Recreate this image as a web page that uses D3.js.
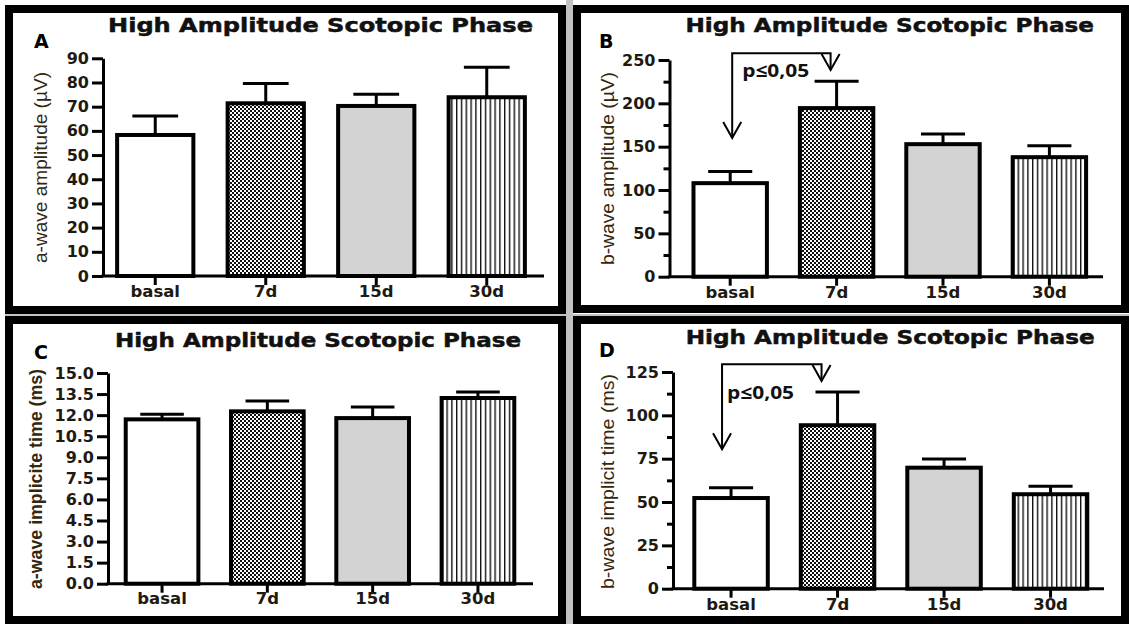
<!DOCTYPE html>
<html>
<head>
<meta charset="utf-8">
<script src="https://cdn.jsdelivr.net/npm/d3@7"></script>
<style>
  body { margin: 0; background: #fff; }
  svg { display: block; }
</style>
</head>
<body>
<script>
const W = 1129, H = 624;

// groups on the x axis
const categories = ["basal", "7d", "15d", "30d"];

// A: a-wave amplitude (µV), mean and SEM
const aAmpMean = [58.3, 71.4, 70.3, 73.9];
const aAmpSem = [7.8, 8.2, 4.8, 12.4];
// B: b-wave amplitude (µV)
const bAmpMean = [107.9, 194.5, 152.9, 137.9];
const bAmpSem = [13.5, 30.9, 11.6, 13.1];
// C: a-wave implicit time (ms)
const aTimeMean = [11.7, 12.27, 11.79, 13.22];
const aTimeSem = [0.36, 0.73, 0.79, 0.42];
// D: b-wave implicit time (ms)
const bTimeMean = [52.3, 94.3, 69.8, 54.5];
const bTimeSem = [6.0, 19.2, 5.0, 4.6];

// tick labels
const aAmpTicks = [0, 10, 20, 30, 40, 50, 60, 70, 80, 90];
const bAmpTicks = [0, 50, 100, 150, 200, 250];
const aTimeTicks = [0, 1.5, 3, 4.5, 6, 7.5, 9, 10.5, 12, 13.5, 15];
const bTimeTicks = [0, 25, 50, 75, 100, 125];

const titleText = "High Amplitude Scotopic Phase";
const sigText = "p\u22640,05";

const fills = ["#ffffff", "url(#checker)", "#d3d3d3", "url(#stripes)"];

const svg = d3.select("body").append("svg")
    .attr("width", W)
    .attr("height", H);

const defs = svg.append("defs");
const checker = defs.append("pattern")
    .attr("id", "checker")
    .attr("patternUnits", "userSpaceOnUse")
    .attr("width", 4).attr("height", 4);
checker.append("rect").attr("width", 4).attr("height", 4).attr("fill", "#fff");
checker.append("rect").attr("width", 2).attr("height", 2).attr("fill", "#111");
checker.append("rect").attr("x", 2).attr("y", 2).attr("width", 2).attr("height", 2).attr("fill", "#111");

const stripes = defs.append("pattern")
    .attr("id", "stripes")
    .attr("patternUnits", "userSpaceOnUse")
    .attr("width", 4.8).attr("height", 4);
stripes.append("rect").attr("width", 4.8).attr("height", 4).attr("fill", "#fff");
stripes.append("rect").attr("width", 1.4).attr("height", 4).attr("fill", "#111");

// gray gutters between the four panels
svg.append("rect").attr("x", 566).attr("y", 0).attr("width", 7).attr("height", H).attr("fill", "#c2c2c2");
svg.append("rect").attr("x", 5).attr("y", 314).attr("width", W).attr("height", 2).attr("fill", "#c2c2c2");

const panels = [
  { letter: "A", mean: aAmpMean, sem: aAmpSem, ticks: aAmpTicks, minor: false, fmt: d3.format("d"),
    ylabel: "a-wave amplitude (\u00b5V)", labelWeight: "normal", labelX: 41, labelY: 167.5, labelLen: 191,
    frame: [9, 9, 553, 301], axisX: 103, xEnd: 544, band: [100, 542], yRange: [276, 58.3],
    title: [108, 533, 32], letterPos: [34, 48], xlabY: 296.7, sig: null },
  { letter: "B", mean: bAmpMean, sem: bAmpSem, ticks: bAmpTicks, minor: true, fmt: d3.format("d"),
    ylabel: "b-wave amplitude (\u00b5V)", labelWeight: "normal", labelX: 608, labelY: 168.5, labelLen: 193,
    frame: [577, 9, 548, 300], axisX: 669.5, xEnd: 1103, band: [677, 1102.6], yRange: [276.7, 60],
    title: [685.5, 1094, 32], letterPos: [599, 48], xlabY: 298,
    sig: { dxFrom: 2, dxTo: -6, top: 257.7, from: 160, to: 238.5, textDx: 10, textV: 230.7 } },
  { letter: "C", mean: aTimeMean, sem: aTimeSem, ticks: aTimeTicks, minor: false, fmt: d3.format(".1f"),
    ylabel: "a-wave implicite time (ms)", labelWeight: "bold", labelX: 36, labelY: 479, labelLen: 220,
    frame: [9, 320, 553, 300], axisX: 108, xEnd: 533, band: [109.4, 530.6], yRange: [583.7, 373],
    title: [115, 521, 347], letterPos: [34, 359], xlabY: 603.7, sig: null },
  { letter: "D", mean: bTimeMean, sem: bTimeSem, ticks: bTimeTicks, minor: true, fmt: d3.format("d"),
    ylabel: "b-wave implicit time (ms)", labelWeight: "normal", labelX: 608, labelY: 481.5, labelLen: 215,
    frame: [577, 320, 548, 300], axisX: 673, xEnd: 1104, band: [677.8, 1103.8], yRange: [588.7, 372],
    title: [685.7, 1094.7, 344.3], letterPos: [599, 357], xlabY: 609.7,
    sig: { dxFrom: -9, dxTo: -16, top: 129.5, from: 80.4, to: 119.8, textDx: 5, textV: 109.5 } }
];

function drawPanel(p) {
  const g = svg.append("g");

  // black frame
  g.append("rect")
    .attr("x", p.frame[0]).attr("y", p.frame[1])
    .attr("width", p.frame[2]).attr("height", p.frame[3])
    .attr("fill", "#fff").attr("stroke", "#000").attr("stroke-width", 8);

  const x = d3.scaleBand().domain(categories).range(p.band)
      .paddingInner(0.31).paddingOuter(0.155);
  const y = d3.scaleLinear().domain([0, d3.max(p.ticks)]).range(p.yRange);

  // title
  g.append("text")
    .attr("x", p.title[0]).attr("y", p.title[2])
    .attr("textLength", p.title[1] - p.title[0])
    .attr("lengthAdjust", "spacingAndGlyphs")
    .attr("font-family", "DejaVu Sans").attr("font-weight", "bold")
    .attr("font-size", 20).attr("fill", "#111")
    .attr("stroke", "#111").attr("stroke-width", 0.5)
    .text(titleText);

  // panel letter
  g.append("text")
    .attr("x", p.letterPos[0]).attr("y", p.letterPos[1])
    .attr("font-family", "DejaVu Sans").attr("font-weight", "bold")
    .attr("font-size", 19).attr("fill", "#000")
    .text(p.letter);

  // bars
  g.selectAll(".bar")
    .data(categories)
    .join("rect")
    .attr("class", "bar")
    .attr("x", d => x(d))
    .attr("width", x.bandwidth())
    .attr("y", (d, i) => y(p.mean[i]))
    .attr("height", (d, i) => y(0) - y(p.mean[i]))
    .attr("fill", (d, i) => fills[i])
    .attr("stroke", "#000").attr("stroke-width", 4);

  // error bars (upper only)
  const cap = x.bandwidth() * 0.6;
  categories.forEach((c, i) => {
    const cx = x(c) + x.bandwidth() / 2;
    const top = y(p.mean[i] + p.sem[i]);
    g.append("line")
      .attr("x1", cx).attr("x2", cx)
      .attr("y1", y(p.mean[i])).attr("y2", top)
      .attr("stroke", "#000").attr("stroke-width", 3);
    g.append("line")
      .attr("x1", cx - cap / 2).attr("x2", cx + cap / 2)
      .attr("y1", top).attr("y2", top)
      .attr("stroke", "#000").attr("stroke-width", 3);
  });

  // y axis
  const yAxis = g.append("g")
    .attr("transform", `translate(${p.axisX},0)`)
    .call(d3.axisLeft(y).tickValues(p.ticks).tickFormat(p.fmt)
      .tickSize(11).tickSizeOuter(0).tickPadding(3));
  if (p.minor) {
    const step = p.ticks[1] - p.ticks[0];
    const minorTicks = p.ticks.slice(0, -1).map(t => t + step / 2);
    g.append("g")
      .attr("transform", `translate(${p.axisX},0)`)
      .call(d3.axisLeft(y).tickValues(minorTicks).tickFormat("")
        .tickSize(6).tickSizeOuter(0))
      .call(a => a.select(".domain").remove())
      .selectAll("line").attr("stroke-width", 3);
  }
  yAxis.select(".domain").attr("stroke-width", 3);
  yAxis.selectAll(".tick line").attr("stroke-width", 3);
  yAxis.selectAll("text")
    .attr("font-family", "DejaVu Sans").attr("font-weight", "bold")
    .attr("font-size", 16).attr("fill", "#1e1a12");

  // x axis
  const xAxis = g.append("g")
    .attr("transform", `translate(0,${y(0)})`)
    .call(d3.axisBottom(x).tickSize(9).tickSizeOuter(0));
  xAxis.select(".domain").remove();
  xAxis.append("line")
    .attr("x1", p.axisX - 1.5).attr("x2", p.xEnd)
    .attr("stroke", "#000").attr("stroke-width", 3);
  xAxis.selectAll(".tick line").attr("stroke-width", 3);
  xAxis.selectAll("text")
    .attr("y", p.xlabY - y(0)).attr("dy", 0)
    .attr("font-family", "DejaVu Sans").attr("font-weight", "bold")
    .attr("font-size", 16.5).attr("fill", "#1e1a12");

  // y axis title
  g.append("text")
    .attr("transform", `translate(${p.labelX + 6},${p.labelY}) rotate(-90)`)
    .attr("text-anchor", "middle")
    .attr("textLength", p.labelLen)
    .attr("lengthAdjust", "spacingAndGlyphs")
    .attr("font-family", "Liberation Sans").attr("font-weight", p.labelWeight)
    .attr("font-size", 19).attr("fill", "#33280f")
    .text(p.ylabel);

  // significance bracket basal -> 7d
  if (p.sig) {
    const s = p.sig;
    const x1 = x(categories[0]) + x.bandwidth() / 2 + s.dxFrom;
    const x2 = x(categories[1]) + x.bandwidth() / 2 + s.dxTo;
    const yTop = y(s.top);
    g.append("path")
      .attr("d", `M${x1},${y(s.from)}V${yTop}H${x2}V${y(s.to)}`)
      .attr("fill", "none").attr("stroke", "#000").attr("stroke-width", 2);
    [[x1, y(s.from)], [x2, y(s.to)]].forEach(([tx, ty]) => {
      g.append("path")
        .attr("d", `M${tx - 9},${ty - 16}L${tx},${ty}L${tx + 9},${ty - 16}`)
        .attr("fill", "none").attr("stroke", "#000").attr("stroke-width", 2);
    });
    g.append("text")
      .attr("x", x1 + s.textDx).attr("y", y(s.textV))
      .attr("textLength", 67)
      .attr("lengthAdjust", "spacingAndGlyphs")
      .attr("font-family", "Open Sans").attr("font-weight", "bold")
      .attr("font-size", 18).attr("fill", "#111")
      .text(sigText);
  }
}

panels.forEach(drawPanel);
</script>
</body>
</html>
